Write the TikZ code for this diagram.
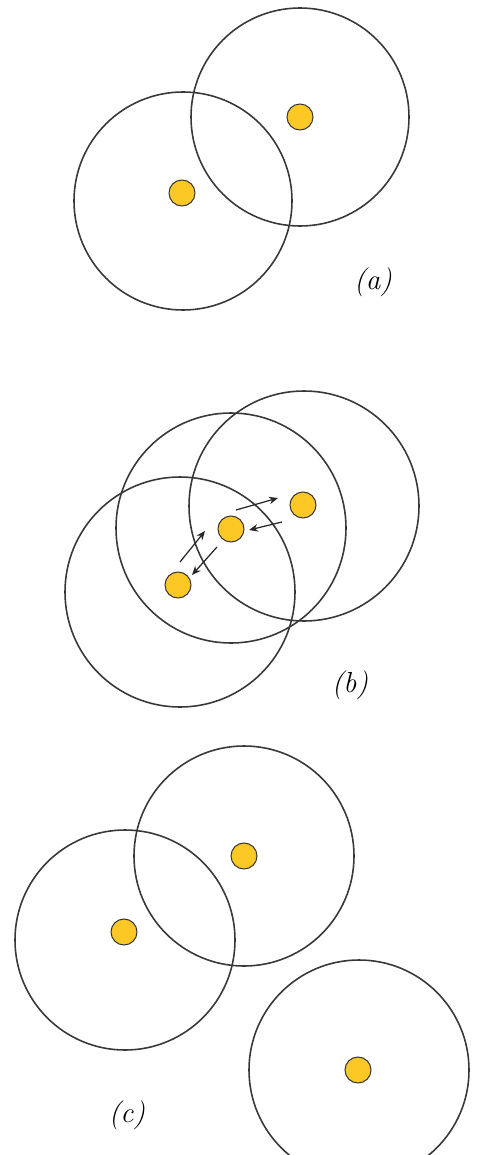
\documentclass[tikz,border=0pt]{standalone}
\usetikzlibrary{arrows.meta}
\definecolor{ringgrey}{gray}{0.22}
\definecolor{dotyellow}{RGB}{252,200,38}
\tikzset{
  ring/.style={draw=ringgrey,line width=0.9pt},
  dot/.style={circle,draw=ringgrey,fill=dotyellow,line width=0.6pt,
              minimum size=5.2mm,inner sep=0pt},
  hop/.style={-{Stealth[length=1.8mm,width=1.5mm]},line width=0.7pt,draw=black!85},
  tag/.style={font=\fontsize{16.5}{19}\selectfont\itshape,inner sep=1pt},
}

\begin{document}
\begin{tikzpicture}[x=0.02cm,y=-0.02cm]
\clip (0,0) rectangle (498,1155);

% (a)
\draw[ring] (183,201) circle (109);
\draw[ring] (300,117) circle (109);
\node[dot] (a1) at (182,193) {};
\node[dot] (a2) at (300,117) {};
\node[tag] (la) at (373,282) {(a)};

% (b)
\draw[ring] (180,592) circle (115);
\draw[ring] (231,528) circle (115);
\draw[ring] (304,506) circle (115);
\node[dot] (bl) at (178,585) {};
\node[dot] (bm) at (231,529) {};
\node[dot] (br) at (303,505) {};
\draw[hop] ([shift={(5,-19)}]bm.center) -- ([shift={(-25,-7)}]br.center);
\draw[hop] ([shift={(-21,17)}]br.center) -- ([shift={(18,1)}]bm.center);
\draw[hop] ([shift={(2,-23)}]bl.center) -- ([shift={(-26,2)}]bm.center);
\draw[hop] ([shift={(-14,18)}]bm.center) -- ([shift={(14,-10)}]bl.center);
\node[tag] (lb) at (350,685) {(b)};

% (c)
\draw[ring] (125,940) circle (110);
\draw[ring] (244,856) circle (110);
\draw[ring] (359,1070) circle (110);
\node[dot] (c1) at (124,932) {};
\node[dot] (c2) at (244,856) {};
\node[dot] (c3) at (358,1070) {};
\node[tag] (lc) at (127,1115) {(c)};
\end{tikzpicture}
\end{document}
